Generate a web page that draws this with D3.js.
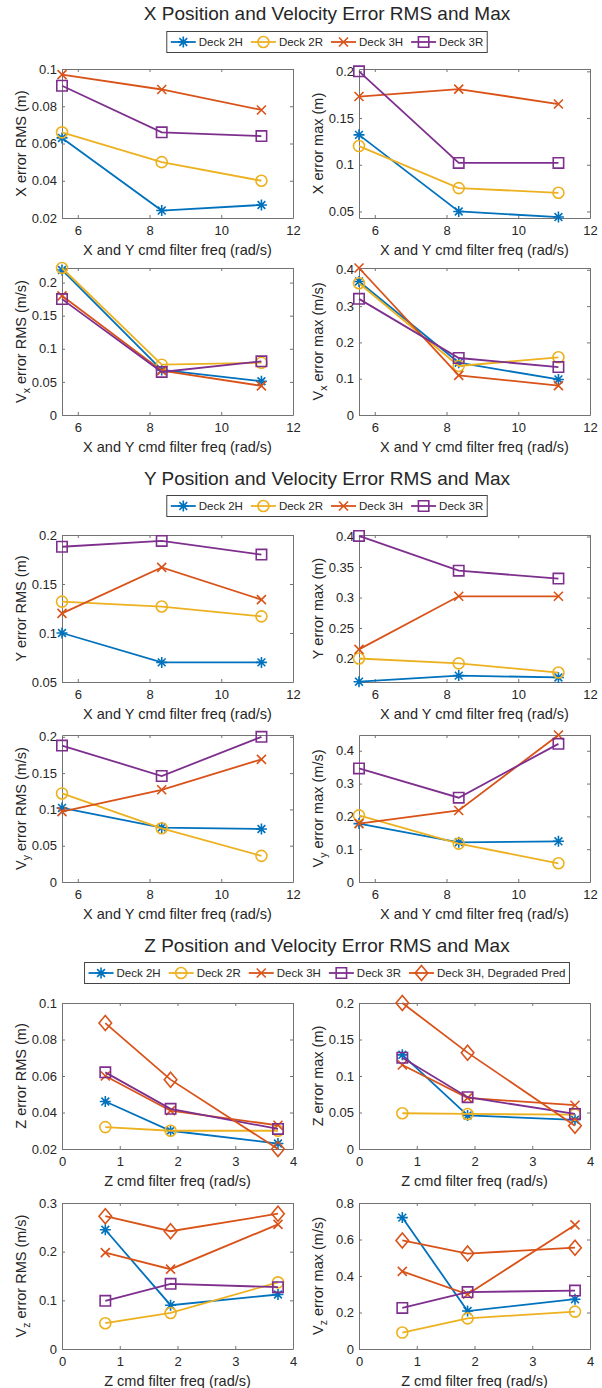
<!DOCTYPE html>
<html>
<head>
<meta charset="utf-8">
<script src="https://cdn.jsdelivr.net/npm/d3@7"></script>
<style>
body { margin: 0; background: #fff; }
text { font-family: "Liberation Sans", Arial, sans-serif; fill: #262626; }
</style>
</head>
<body>
<svg width="602" height="1388"></svg>
<script>
// data
var xyFreq = [5.56, 8.34, 11.12];
var zFreq = [0.75, 1.88, 3.74];
var xyTicks = [6, 8, 10, 12];
var zTicks = [0, 1, 2, 3, 4];
var deckNames = ["Deck 2H", "Deck 2R", "Deck 3H", "Deck 3R", "Deck 3H, Degraded Pred"];

// rows: Deck 2H, 2R, 3H, 3R (, 3H degraded)
var xRms = [[0.063, 0.024, 0.027], [0.066, 0.050, 0.040], [0.097, 0.089, 0.078], [0.091, 0.066, 0.064]];
var xMax = [[0.132, 0.050, 0.044], [0.120, 0.075, 0.070], [0.173, 0.181, 0.165], [0.200, 0.102, 0.102]];
var vxRms = [[0.219, 0.068, 0.051], [0.222, 0.076, 0.079], [0.180, 0.067, 0.044], [0.175, 0.065, 0.081]];
var vxMax = [[0.368, 0.144, 0.098], [0.363, 0.135, 0.159], [0.405, 0.109, 0.081], [0.320, 0.157, 0.132]];
var yRms = [[0.100, 0.070, 0.070], [0.132, 0.127, 0.117], [0.120, 0.167, 0.134], [0.188, 0.194, 0.180]];
var yMax = [[0.162, 0.172, 0.169], [0.200, 0.192, 0.177], [0.215, 0.302, 0.302], [0.401, 0.344, 0.331]];
var vyRms = [[0.102, 0.075, 0.073], [0.122, 0.074, 0.036], [0.097, 0.127, 0.169], [0.188, 0.146, 0.200]];
var vyMax = [[0.178, 0.121, 0.124], [0.203, 0.117, 0.057], [0.178, 0.218, 0.448], [0.346, 0.257, 0.421]];
var zRms = [[0.046, 0.030, 0.023], [0.032, 0.030, 0.030], [0.060, 0.041, 0.033], [0.062, 0.042, 0.031], [0.089, 0.058, 0.020]];
var zMax = [[0.129, 0.046, 0.040], [0.049, 0.048, 0.047], [0.115, 0.070, 0.060], [0.125, 0.071, 0.048], [0.200, 0.132, 0.032]];
var vzRms = [[0.245, 0.090, 0.112], [0.053, 0.074, 0.137], [0.198, 0.164, 0.256], [0.099, 0.134, 0.127], [0.273, 0.242, 0.278]];
var vzMax = [[0.720, 0.208, 0.273], [0.090, 0.168, 0.205], [0.425, 0.300, 0.680], [0.225, 0.312, 0.320], [0.595, 0.523, 0.555]];

var colors = ["#0072BD", "#EDB120", "#D95319", "#7E2F8E", "#D95319"];
var markers = ["star", "circle", "cross", "square", "diamond"];
var markerPath = {
  star: "M-5.5,0H5.5M0,-5.5V5.5M-3.9,-3.9L3.9,3.9M-3.9,3.9L3.9,-3.9",
  circle: "M5.5,0A5.5,5.5 0 1 1 -5.5,0A5.5,5.5 0 1 1 5.5,0Z",
  cross: "M-4.5,-4.5L4.5,4.5M-4.5,4.5L4.5,-4.5",
  square: "M-5.2,-5.2H5.2V5.2H-5.2Z",
  diamond: "M0,-7.5L6.3,0L0,7.5L-6.3,0Z"
};

var svg = d3.select("svg");
var colLeft = [62, 359], colW = 231;
var rowSpans = [[69, 218], [268, 415], [535, 682], [735, 882], [1003, 1149], [1203, 1349]];
var xyLabel = "X and Y cmd filter freq (rad/s)";
var zLabel = "Z cmd filter freq (rad/s)";

var panels = [
  {row: 0, col: 0, z: false, data: xRms,  yDom: [0.02, 0.1],     yTicks: [0.02, 0.04, 0.06, 0.08, 0.1], yLab: ["X error RMS (m)"]},
  {row: 0, col: 1, z: false, data: xMax,  yDom: [0.043, 0.2025], yTicks: [0.05, 0.1, 0.15, 0.2], yLab: ["X error max (m)"]},
  {row: 1, col: 0, z: false, data: vxRms, yDom: [0, 0.222],      yTicks: [0, 0.05, 0.1, 0.15, 0.2], yLab: ["V", "x", " error RMS (m/s)"]},
  {row: 1, col: 1, z: false, data: vxMax, yDom: [0, 0.405],      yTicks: [0, 0.1, 0.2, 0.3, 0.4], yLab: ["V", "x", " error max (m/s)"]},
  {row: 2, col: 0, z: false, data: yRms,  yDom: [0.05, 0.2],     yTicks: [0.05, 0.1, 0.15, 0.2], yLab: ["Y error RMS (m)"]},
  {row: 2, col: 1, z: false, data: yMax,  yDom: [0.1615, 0.4025], yTicks: [0.2, 0.25, 0.3, 0.35, 0.4], yLab: ["Y error max (m)"]},
  {row: 3, col: 0, z: false, data: vyRms, yDom: [0, 0.2025],     yTicks: [0, 0.05, 0.1, 0.15, 0.2], yLab: ["V", "y", " error RMS (m/s)"]},
  {row: 3, col: 1, z: false, data: vyMax, yDom: [0, 0.448],      yTicks: [0, 0.1, 0.2, 0.3, 0.4], yLab: ["V", "y", " error max (m/s)"]},
  {row: 4, col: 0, z: true,  data: zRms,  yDom: [0.02, 0.1],     yTicks: [0.02, 0.04, 0.06, 0.08, 0.1], yLab: ["Z error RMS (m)"]},
  {row: 4, col: 1, z: true,  data: zMax,  yDom: [0, 0.2],        yTicks: [0, 0.05, 0.1, 0.15, 0.2], yLab: ["Z error max (m)"]},
  {row: 5, col: 0, z: true,  data: vzRms, yDom: [0, 0.3],        yTicks: [0, 0.1, 0.2, 0.3], yLab: ["V", "z", " error RMS (m/s)"]},
  {row: 5, col: 1, z: true,  data: vzMax, yDom: [0, 0.8],        yTicks: [0, 0.2, 0.4, 0.6, 0.8], yLab: ["V", "z", " error max (m/s)"]}
];

var fmt = function(d) { return String(+d.toFixed(3)); };

panels.forEach(function(p) {
  var x0 = colLeft[p.col], y0 = rowSpans[p.row][0], y1 = rowSpans[p.row][1];
  var freq = p.z ? zFreq : xyFreq;
  var xt = p.z ? zTicks : xyTicks;
  var x = d3.scaleLinear().domain(p.z ? [0, 4] : [xyFreq[0], 12]).range([x0, x0 + colW]);
  var y = d3.scaleLinear().domain(p.yDom).range([y1, y0]);
  var g = svg.append("g");

  g.append("g").attr("transform", "translate(0," + y1 + ")")
    .call(d3.axisBottom(x).tickValues(xt).tickSizeInner(-3).tickSizeOuter(0).tickPadding(8).tickFormat(fmt));
  g.append("g").attr("transform", "translate(0," + y0 + ")")
    .call(d3.axisTop(x).tickValues(xt).tickSizeInner(-3).tickSizeOuter(0).tickFormat(""));
  g.append("g").attr("transform", "translate(" + x0 + ",0)")
    .call(d3.axisLeft(y).tickValues(p.yTicks).tickSizeInner(-3).tickSizeOuter(0).tickPadding(5).tickFormat(fmt));
  g.append("g").attr("transform", "translate(" + (x0 + colW) + ",0)")
    .call(d3.axisRight(y).tickValues(p.yTicks).tickSizeInner(-3).tickSizeOuter(0).tickFormat(""));
  g.selectAll(".domain, .tick line").attr("stroke", "#737373");
  g.selectAll(".tick text").attr("font-size", 13);

  g.append("text")
    .attr("x", x0 + colW / 2).attr("y", y1 + 37)
    .attr("text-anchor", "middle").attr("font-size", 14.5)
    .text(p.z ? zLabel : xyLabel);

  var yl = g.append("text")
    .attr("transform", "translate(" + (p.col == 0 ? 21 : 318) + "," + (y0 + y1) / 2 + ") rotate(-90)")
    .attr("text-anchor", "middle").attr("dy", "0.35em").attr("font-size", 14.5);
  yl.append("tspan").text(p.yLab[0]);
  if (p.yLab.length > 1) {
    yl.append("tspan").attr("dy", 4).attr("font-size", 10.5).text(p.yLab[1]);
    yl.append("tspan").attr("dy", -4).text(p.yLab[2]);
  }

  var line = d3.line().x(function(d) { return x(d[0]); }).y(function(d) { return y(d[1]); });
  p.data.forEach(function(vals, i) {
    var pts = vals.map(function(v, j) { return [freq[j], v]; });
    g.append("path").datum(pts).attr("d", line)
      .attr("fill", "none").attr("stroke", colors[i]).attr("stroke-width", 1.8);
    g.selectAll(null).data(pts).enter().append("path")
      .attr("transform", function(d) { return "translate(" + x(d[0]) + "," + y(d[1]) + ")"; })
      .attr("d", markerPath[markers[i]])
      .attr("fill", "none").attr("stroke", colors[i]).attr("stroke-width", 1.6);
  });
});

// section titles and legends
var titles = ["X Position and Velocity Error RMS and Max", "Y Position and Velocity Error RMS and Max", "Z Position and Velocity Error RMS and Max"];
var titleY = [20, 485, 952];
var legendY = [42, 506, 973];
var legendCount = [4, 4, 5];

titles.forEach(function(t, s) {
  svg.append("text").attr("x", 327).attr("y", titleY[s])
    .attr("text-anchor", "middle").attr("font-size", 19).text(t);

  var lg = svg.append("g");
  var box = lg.append("rect");
  var cx = 4;
  for (var i = 0; i < legendCount[s]; i++) {
    lg.append("line").attr("x1", cx).attr("x2", cx + 25).attr("y1", 0).attr("y2", 0)
      .attr("stroke", colors[i]).attr("stroke-width", 1.8);
    lg.append("path").attr("transform", "translate(" + (cx + 12.5) + ",0)")
      .attr("d", markerPath[markers[i]])
      .attr("fill", "none").attr("stroke", colors[i]).attr("stroke-width", 1.6);
    var tx = lg.append("text").attr("x", cx + 28).attr("dy", "0.35em")
      .attr("font-size", 11.5).text(deckNames[i]);
    cx += 28 + tx.node().getComputedTextLength() + 8;
  }
  var w = cx - 4;
  box.attr("x", 0).attr("y", -10.5).attr("width", w).attr("height", 21)
    .attr("fill", "#fff").attr("stroke", "#444").attr("stroke-width", 1);
  lg.attr("transform", "translate(" + (327 - w / 2) + "," + legendY[s] + ")");
});
</script>
</body>
</html>
